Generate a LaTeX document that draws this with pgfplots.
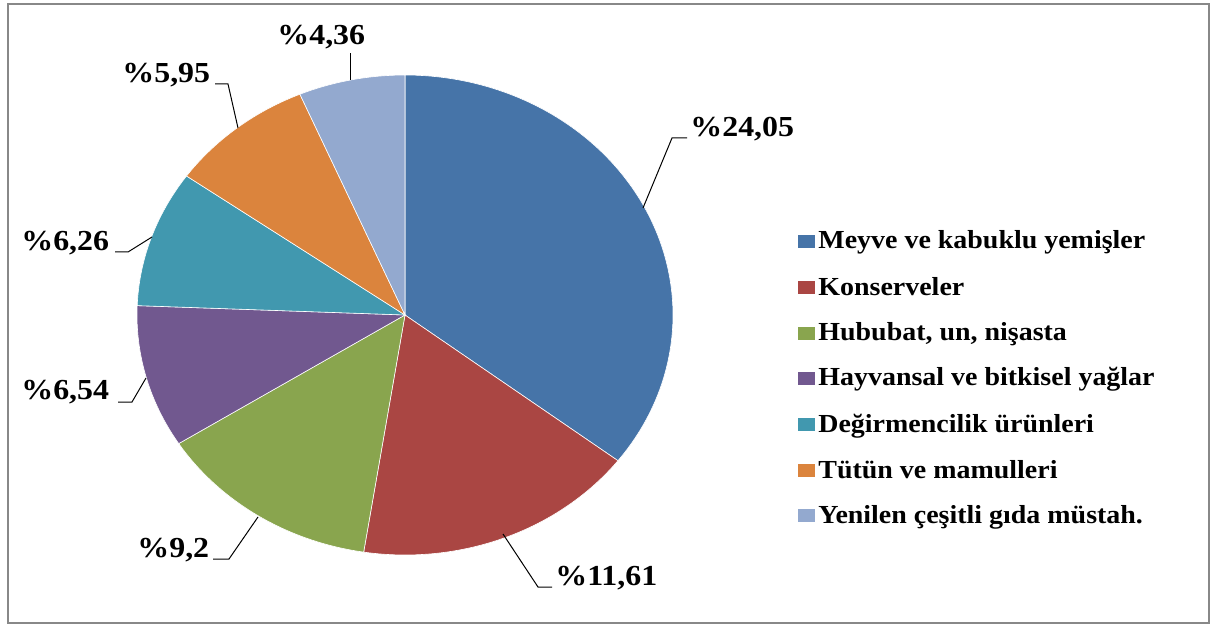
\documentclass[border=0pt]{standalone}
\usepackage{fontspec}
\setmainfont{Liberation Serif}
\usepackage{graphicx}
\usepackage{pgfplots}
\usepackage{pgfplotstable}
\pgfplotsset{compat=1.18}

\definecolor{c1}{HTML}{4674A8}
\definecolor{c2}{HTML}{AA4643}
\definecolor{c3}{HTML}{89A54E}
\definecolor{c4}{HTML}{71588F}
\definecolor{c5}{HTML}{4198AF}
\definecolor{c6}{HTML}{DB843D}
\definecolor{c7}{HTML}{93A9CF}
\definecolor{framegray}{HTML}{888888}

\pgfplotstableread{
value
24.05
11.61
9.2
6.54
6.26
5.95
4.36
}\piedata

\pgfplotstablegetelem{0}{value}\of\piedata\let\vA\pgfplotsretval
\pgfplotstablegetelem{1}{value}\of\piedata\let\vB\pgfplotsretval
\pgfplotstablegetelem{2}{value}\of\piedata\let\vC\pgfplotsretval
\pgfplotstablegetelem{3}{value}\of\piedata\let\vD\pgfplotsretval
\pgfplotstablegetelem{4}{value}\of\piedata\let\vE\pgfplotsretval
\pgfplotstablegetelem{5}{value}\of\piedata\let\vF\pgfplotsretval
\pgfplotstablegetelem{6}{value}\of\piedata\let\vG\pgfplotsretval
\pgfmathsetmacro\total{\vA+\vB+\vC+\vD+\vE+\vF+\vG}
\pgfmathsetmacro\aA{90}
\pgfmathsetmacro\aB{\aA-360*\vA/\total}
\pgfmathsetmacro\aC{\aB-360*\vB/\total}
\pgfmathsetmacro\aD{\aC-360*\vC/\total}
\pgfmathsetmacro\aE{\aD-360*\vD/\total}
\pgfmathsetmacro\aF{\aE-360*\vE/\total}
\pgfmathsetmacro\aG{\aF-360*\vF/\total}
\pgfmathsetmacro\aH{\aG-360*\vG/\total}

\newcommand\lab{\fontsize{14.5}{17}\selectfont\bfseries}
\newcommand\leg{\fontsize{13}{15}\selectfont\bfseries}
\newcommand\LS[1]{\scalebox{1.1}[1]{#1}}
\newcommand\GS[1]{\scalebox{1.075}[1]{#1}}

\begin{document}
\begin{tikzpicture}
\begin{axis}[
  width=606pt, height=313pt, scale only axis,
  xmin=0, xmax=1212, ymin=0, ymax=626, y dir=reverse,
  hide axis, clip=false,
]
\path (axis cs:0,0) rectangle (axis cs:1212,626);
\draw[framegray, line width=1pt] (axis cs:8,4) rectangle (axis cs:1209,623);

\addplot[fill=c1, draw=white, line width=0.3pt, domain=\aB:\aA, samples=120] ({405+268*cos(x)},{315-240*sin(x)}) -- (axis cs:405,315) -- cycle;
\addplot[fill=c2, draw=white, line width=0.3pt, domain=\aC:\aB, samples=80] ({405+268*cos(x)},{315-240*sin(x)}) -- (axis cs:405,315) -- cycle;
\addplot[fill=c3, draw=white, line width=0.3pt, domain=\aD:\aC, samples=60] ({405+268*cos(x)},{315-240*sin(x)}) -- (axis cs:405,315) -- cycle;
\addplot[fill=c4, draw=white, line width=0.3pt, domain=\aE:\aD, samples=50] ({405+268*cos(x)},{315-240*sin(x)}) -- (axis cs:405,315) -- cycle;
\addplot[fill=c5, draw=white, line width=0.3pt, domain=\aF:\aE, samples=50] ({405+268*cos(x)},{315-240*sin(x)}) -- (axis cs:405,315) -- cycle;
\addplot[fill=c6, draw=white, line width=0.3pt, domain=\aG:\aF, samples=50] ({405+268*cos(x)},{315-240*sin(x)}) -- (axis cs:405,315) -- cycle;
\addplot[fill=c7, draw=white, line width=0.3pt, domain=\aH:\aG, samples=40] ({405+268*cos(x)},{315-240*sin(x)}) -- (axis cs:405,315) -- cycle;

% leader lines
\addplot[black, line width=0.5pt, mark=none] coordinates {(643,208) (672,138) (687,138)};
\addplot[black, line width=0.5pt, mark=none] coordinates {(503,534) (538,587) (552,587)};
\addplot[black, line width=0.5pt, mark=none] coordinates {(258,517) (229,559) (213,559)};
\addplot[black, line width=0.5pt, mark=none] coordinates {(146,378) (132,402) (118,402)};
\addplot[black, line width=0.5pt, mark=none] coordinates {(152,237) (128,252) (115,252)};
\addplot[black, line width=0.5pt, mark=none] coordinates {(238,128) (228,84) (215,84)};
\addplot[black, line width=0.5pt, mark=none] coordinates {(350,80) (350,53)};

% data labels
\node[anchor=base west, font=\lab, inner sep=0pt] at (axis cs:690,137) {\LS{\%24,05}};
\node[anchor=base west, font=\lab, inner sep=0pt] at (axis cs:555,585) {\LS{\%11,61}};
\node[anchor=base west, font=\lab, inner sep=0pt] at (axis cs:137,557) {\LS{\%9,2}};
\node[anchor=base west, font=\lab, inner sep=0pt] at (axis cs:21,400) {\LS{\%6,54}};
\node[anchor=base west, font=\lab, inner sep=0pt] at (axis cs:21,250) {\LS{\%6,26}};
\node[anchor=base west, font=\lab, inner sep=0pt] at (axis cs:122,83) {\LS{\%5,95}};
\node[anchor=base west, font=\lab, inner sep=0pt] at (axis cs:277,45) {\LS{\%4,36}};

% legend
\fill[c1] (axis cs:798,235) rectangle (axis cs:815,248);
\node[anchor=base west, font=\leg, inner sep=0pt] at (axis cs:818,249) {\GS{Meyve ve kabuklu yemişler}};
\fill[c2] (axis cs:798,281) rectangle (axis cs:815,294);
\node[anchor=base west, font=\leg, inner sep=0pt] at (axis cs:818,295) {\GS{Konserveler}};
\fill[c3] (axis cs:798,327) rectangle (axis cs:815,340);
\node[anchor=base west, font=\leg, inner sep=0pt] at (axis cs:818,341) {\GS{Hububat, un, nişasta}};
\fill[c4] (axis cs:798,372) rectangle (axis cs:815,385);
\node[anchor=base west, font=\leg, inner sep=0pt] at (axis cs:818,386) {\GS{Hayvansal ve bitkisel yağlar}};
\fill[c5] (axis cs:798,418) rectangle (axis cs:815,431);
\node[anchor=base west, font=\leg, inner sep=0pt] at (axis cs:818,432) {\GS{Değirmencilik ürünleri}};
\fill[c6] (axis cs:798,464) rectangle (axis cs:815,477);
\node[anchor=base west, font=\leg, inner sep=0pt] at (axis cs:818,478) {\GS{Tütün ve mamulleri}};
\fill[c7] (axis cs:798,509) rectangle (axis cs:815,522);
\node[anchor=base west, font=\leg, inner sep=0pt] at (axis cs:818,523) {\GS{Yenilen çeşitli gıda müstah.}};
\end{axis}
\end{tikzpicture}
\end{document}
